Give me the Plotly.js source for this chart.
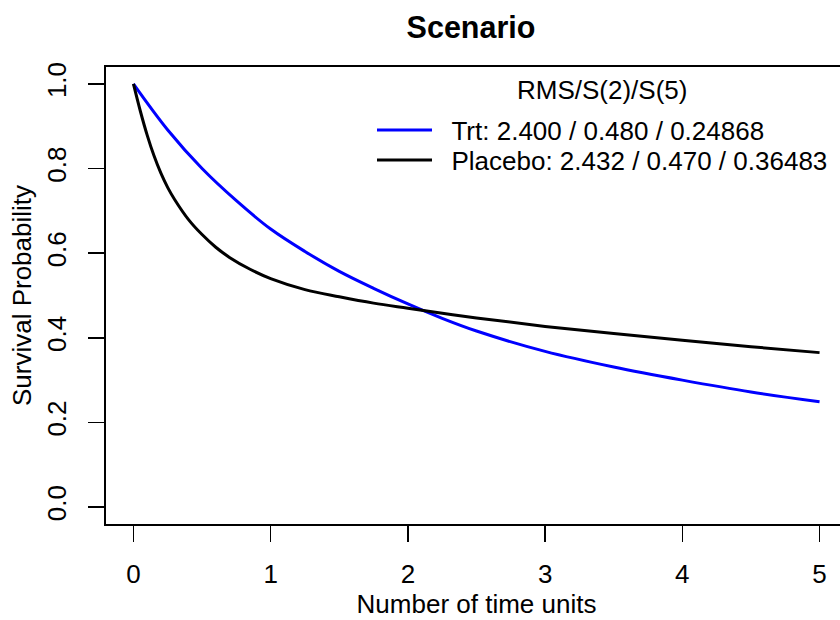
<!DOCTYPE html>
<html>
<head>
<meta charset="utf-8">
<script src="https://cdn.plot.ly/plotly-3.0.1.min.js"></script>
<style>
html, body { margin: 0; padding: 0; overflow: hidden; background: #fff; }
#chart { width: 848px; height: 620px; }
</style>
</head>
<body>
<div id="chart"></div>
<script>
// Data
const trtTime = [0, 0.25, 0.5, 0.75, 1.0, 1.25, 1.5, 1.75, 2.0, 2.25, 2.5, 3.0, 3.5, 4.0, 4.5, 5.0];
const trtSurv = [1.0, 0.891, 0.800, 0.724, 0.657, 0.604, 0.557, 0.517, 0.480, 0.446, 0.416, 0.368, 0.331, 0.300, 0.272, 0.249];

const plaTime = [0, 0.05, 0.1, 0.15, 0.2, 0.25, 0.3, 0.4, 0.5, 0.6, 0.7, 0.85, 1.0, 1.25, 1.5, 1.75, 2.0, 2.5, 3.0, 3.5, 4.0, 4.5, 5.0];
const plaSurv = [1.0, 0.936, 0.879, 0.830, 0.789, 0.755, 0.727, 0.680, 0.644, 0.614, 0.590, 0.562, 0.540, 0.514, 0.497, 0.482, 0.470, 0.447, 0.427, 0.410, 0.394, 0.379, 0.365];

const seriesNames = ["Trt: 2.400 / 0.480 / 0.24868", "Placebo: 2.432 / 0.470 / 0.36483"];
const legendTitle = "RMS/S(2)/S(5)";
const xTicks = [0, 1, 2, 3, 4, 5];
const yTicks = [0, 0.2, 0.4, 0.6, 0.8, 1.0];
const yTickText = ["0.0", "0.2", "0.4", "0.6", "0.8", "1.0"];

const FONT = "Liberation Sans, Arial, Helvetica, sans-serif";
const FS = 26;
const GAP = "\u00a0\u00a0";

const traces = [
  { x: trtTime, y: trtSurv, name: GAP + seriesNames[0], mode: "lines", legend: "legend",
    line: { color: "#0000ff", width: 3, shape: "spline", smoothing: 1 } },
  { x: plaTime, y: plaSurv, name: GAP + seriesNames[1], mode: "lines", legend: "legend2",
    line: { color: "#000000", width: 3, shape: "spline", smoothing: 1 } }
];

const axisCommon = {
  showgrid: false, zeroline: false,
  showline: true, mirror: true, linecolor: "#000", linewidth: 1.6,
  ticks: "outside", ticklen: 16, tickwidth: 1.6, tickcolor: "#000",
  tickfont: { family: FONT, size: FS, color: "#000" }
};

// plot area in pixels: x 106..847, y 67..524
const pyFrac = function (px) { return (524 - px) / 457; };
const pxFrac = function (px) { return (px - 106) / 741; };

const legendCommon = {
  xref: "paper", yref: "paper", xanchor: "left", yanchor: "middle",
  bgcolor: "rgba(0,0,0,0)", borderwidth: 0,
  font: { family: FONT, size: FS, color: "#000" },
  itemwidth: 55
};

const layout = {
  width: 848, height: 620,
  paper_bgcolor: "#fff", plot_bgcolor: "#fff",
  margin: { l: 106, r: 1, t: 67, b: 96, pad: 0 },
  font: { family: FONT, size: FS, color: "#000" },
  title: {
    text: "<b>Scenario</b>",
    font: { family: FONT, size: 30.5, color: "#000" },
    xref: "container", yref: "container",
    x: 471 / 848, xanchor: "center",
    y: 1 - 27 / 620, yanchor: "middle"
  },
  xaxis: Object.assign({}, axisCommon, {
    range: [-0.2, 5.2], tickvals: xTicks,
    ticklabelstandoff: 10,
    title: { text: "Number of time units", font: { family: FONT, size: FS, color: "#000" }, standoff: 6 }
  }),
  yaxis: Object.assign({}, axisCommon, {
    range: [-0.04, 1.04], tickvals: yTicks, ticktext: yTickText,
    tickangle: -90, ticklabelstandoff: 12,
    title: { text: "Survival Probability", font: { family: FONT, size: FS, color: "#000" }, standoff: 3 }
  }),
  showlegend: true,
  legend: Object.assign({}, legendCommon, { x: pxFrac(372), y: pyFrac(130) }),
  legend2: Object.assign({}, legendCommon, { x: pxFrac(372), y: pyFrac(160) }),
  annotations: [{
    text: legendTitle, xref: "paper", yref: "paper",
    x: pxFrac(602), y: pyFrac(90), xanchor: "center", yanchor: "middle",
    showarrow: false, font: { family: FONT, size: FS, color: "#000" }
  }]
};

Plotly.newPlot("chart", traces, layout, { displayModeBar: false, staticPlot: true });
</script>
</body>
</html>
